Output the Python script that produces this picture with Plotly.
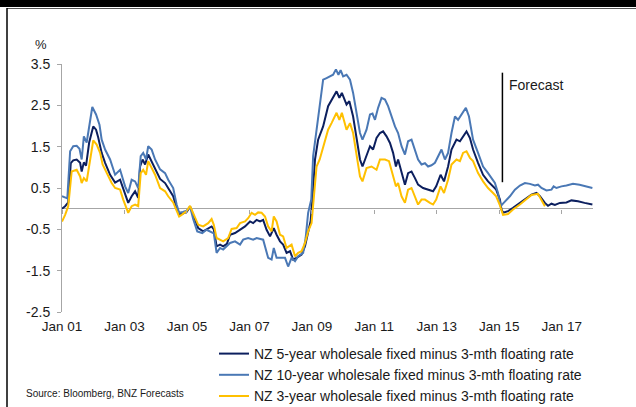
import plotly.graph_objects as go

# ---------------- data ----------------
x_5y = [2001.0, 2001.1, 2001.2, 2001.28, 2001.36, 2001.47, 2001.58, 2001.63, 2001.70, 2001.77, 2001.87,
        2002.0, 2002.09, 2002.16, 2002.27, 2002.38, 2002.54, 2002.70, 2002.86, 2003.02, 2003.12, 2003.23,
        2003.34, 2003.44, 2003.5, 2003.58, 2003.66, 2003.76, 2003.87, 2003.98, 2004.14, 2004.30, 2004.40,
        2004.56, 2004.67, 2004.75, 2004.87, 2004.99, 2005.1, 2005.2, 2005.36, 2005.52, 2005.68, 2005.79,
        2005.86, 2005.95, 2006.06, 2006.16, 2006.28, 2006.38, 2006.54, 2006.7, 2006.86, 2007.02, 2007.12,
        2007.23, 2007.34, 2007.44, 2007.55, 2007.66, 2007.78, 2007.87, 2007.98, 2008.08, 2008.19, 2008.3,
        2008.4, 2008.51, 2008.67, 2008.78, 2008.88, 2008.96, 2009.04, 2009.1, 2009.2, 2009.36, 2009.52,
        2009.63, 2009.79, 2009.88, 2009.96, 2010.11, 2010.2, 2010.32, 2010.43, 2010.54, 2010.62, 2010.75,
        2010.86, 2010.96, 2011.07, 2011.18, 2011.28, 2011.39, 2011.5, 2011.6, 2011.69, 2011.76, 2011.87,
        2011.98, 2012.08, 2012.19, 2012.3, 2012.4, 2012.56, 2012.72, 2012.88, 2012.98, 2013.12, 2013.23,
        2013.36, 2013.47, 2013.63, 2013.74, 2013.84, 2013.95, 2014.06, 2014.16, 2014.32, 2014.48, 2014.64,
        2014.8, 2014.9, 2015.02, 2015.07, 2015.12, 2015.28, 2015.44, 2015.66, 2015.87, 2016.03, 2016.19,
        2016.3, 2016.46, 2016.56, 2016.67, 2016.78, 2016.94, 2017.15, 2017.31, 2017.52, 2017.73, 2017.98]
y_5y = [0.0, 0.06, 0.15, 1.1, 1.17, 1.19, 1.11, 0.9, 1.12, 1.04, 1.6,
        1.99, 1.91, 1.72, 1.35, 1.11, 0.82, 0.63, 0.70, 0.38, 0.14, 0.30,
        0.42, 0.26, 1.02, 1.19, 1.07, 1.31, 1.15, 0.99, 0.72, 0.62, 0.5,
        0.3, 0.02, -0.13, -0.12, -0.08, 0.05, -0.15, -0.47, -0.55, -0.47, -0.43,
        -0.5, -0.91, -0.87, -0.91, -0.85, -0.63, -0.59, -0.51, -0.43, -0.31, -0.35,
        -0.27, -0.31, -0.27, -0.51, -0.67, -0.47, -0.63, -0.79, -0.87, -1.07, -1.03,
        -1.23, -1.19, -1.11, -0.91, -0.59, -0.3, 0.5, 1.19, 1.67, 1.99, 2.48,
        2.64, 2.84, 2.68, 2.8, 2.52, 2.6, 2.23, 1.67, 1.19, 1.02, 1.27,
        1.51, 1.43, 1.71, 1.83, 1.87, 1.75, 1.59, 1.35, 1.02, 1.19, 0.86,
        0.58, 0.86, 0.9, 0.74, 0.58, 0.5, 0.46, 0.42, 0.54, 0.82, 0.66,
        1.02, 1.43, 1.67, 1.63, 1.75, 1.87, 1.71, 1.43, 1.11, 0.82, 0.66,
        0.54, 0.46, 0.22, -0.02, -0.1, -0.06, 0.02, 0.14, 0.26, 0.34, 0.38,
        0.30, 0.14, 0.07, 0.12, 0.09, 0.14, 0.15, 0.2, 0.18, 0.14, 0.10]

x_10y = [2001.0, 2001.1, 2001.17, 2001.26, 2001.36, 2001.47, 2001.56, 2001.63, 2001.70, 2001.79, 2001.9,
         2001.97, 2002.09, 2002.2, 2002.27, 2002.38, 2002.54, 2002.70, 2002.86, 2003.02, 2003.12, 2003.23,
         2003.34, 2003.44, 2003.52, 2003.6, 2003.69, 2003.76, 2003.87, 2003.98, 2004.14, 2004.3, 2004.4,
         2004.56, 2004.67, 2004.75, 2004.87, 2004.99, 2005.1, 2005.2, 2005.33, 2005.49, 2005.63, 2005.76,
         2005.86, 2005.95, 2006.06, 2006.16, 2006.38, 2006.54, 2006.7, 2006.8, 2006.96, 2007.12, 2007.23,
         2007.44, 2007.6, 2007.71, 2007.78, 2007.87, 2008.03, 2008.14, 2008.24, 2008.35, 2008.46, 2008.56,
         2008.72, 2008.8, 2008.88, 2008.98, 2009.04, 2009.2, 2009.36, 2009.47, 2009.57, 2009.68, 2009.77,
         2009.85, 2009.92, 2010.0, 2010.11, 2010.22, 2010.32, 2010.43, 2010.54, 2010.62, 2010.75, 2010.86,
         2010.94, 2011.02, 2011.12, 2011.23, 2011.34, 2011.44, 2011.55, 2011.66, 2011.76, 2011.87, 2011.98,
         2012.08, 2012.19, 2012.3, 2012.4, 2012.51, 2012.62, 2012.72, 2012.83, 2012.94, 2013.04, 2013.15,
         2013.26, 2013.36, 2013.47, 2013.58, 2013.68, 2013.79, 2013.93, 2014.03, 2014.16, 2014.32, 2014.48,
         2014.64, 2014.75, 2014.86, 2014.96, 2015.04, 2015.14, 2015.34, 2015.5, 2015.66, 2015.82, 2015.98,
         2016.14, 2016.24, 2016.35, 2016.51, 2016.67, 2016.74, 2016.83, 2016.99, 2017.15, 2017.36, 2017.57,
         2017.78, 2017.98]
y_10y = [0.3, 0.28, 0.25, 1.39, 1.51, 1.52, 1.45, 1.19, 1.75, 1.6, 2.15,
         2.46, 2.28, 2.03, 1.67, 1.43, 1.19, 0.82, 0.94, 0.54, 0.38, 0.70,
         0.66, 0.50, 1.27, 1.35, 1.19, 1.51, 1.43, 1.19, 0.95, 0.86, 0.7,
         0.5, 0.1, -0.1, -0.08, -0.05, 0.05, -0.25, -0.55, -0.59, -0.51, -0.55,
         -0.6, -1.07, -0.95, -0.99, -0.83, -0.79, -0.87, -0.75, -0.71, -0.75, -0.71,
         -0.75, -1.19, -1.23, -0.95, -1.19, -1.19, -1.19, -1.40, -1.19, -1.27, -1.15,
         -1.07, -0.71, -0.1, 0.22, 1.27, 2.23, 3.12, 3.16, 3.2, 3.24, 3.37,
         3.24, 3.35, 3.2, 3.24, 3.12, 2.8, 2.32, 1.83, 1.67, 1.91, 2.28,
         2.3, 2.15, 2.44, 2.68, 2.64, 2.48, 2.23, 1.99, 1.83, 1.51, 1.31,
         1.63, 1.67, 1.43, 1.19, 1.07, 1.1, 1.02, 1.05, 1.11, 1.27, 1.43,
         1.19, 1.35, 1.83, 2.23, 2.15, 2.28, 2.44, 2.23, 1.67, 1.35, 1.02,
         0.86, 0.74, 0.62, 0.38, 0.06, 0.14, 0.3, 0.46, 0.56, 0.62, 0.6,
         0.56, 0.58, 0.50, 0.44, 0.46, 0.54, 0.5, 0.54, 0.56, 0.6, 0.58,
         0.54, 0.5]

x_3y = [2001.0, 2001.1, 2001.2, 2001.31, 2001.47, 2001.58, 2001.63, 2001.70, 2001.79, 2001.9, 2002.0,
        2002.11, 2002.22, 2002.3, 2002.43, 2002.59, 2002.7, 2002.86, 2002.96, 2003.07, 2003.12, 2003.23,
        2003.34, 2003.44, 2003.52, 2003.6, 2003.69, 2003.76, 2003.87, 2003.98, 2004.14, 2004.3, 2004.4,
        2004.56, 2004.67, 2004.75, 2004.83, 2004.99, 2005.1, 2005.2, 2005.36, 2005.52, 2005.68, 2005.79,
        2005.86, 2005.95, 2006.06, 2006.16, 2006.32, 2006.43, 2006.59, 2006.7, 2006.86, 2006.96, 2007.07,
        2007.18, 2007.28, 2007.39, 2007.5, 2007.6, 2007.71, 2007.78, 2007.87, 2007.98, 2008.08, 2008.19,
        2008.35, 2008.46, 2008.56, 2008.67, 2008.78, 2008.88, 2008.99, 2009.05, 2009.15, 2009.25, 2009.36,
        2009.52, 2009.63, 2009.79, 2009.88, 2009.96, 2010.11, 2010.22, 2010.32, 2010.43, 2010.54, 2010.62,
        2010.75, 2010.91, 2011.07, 2011.18, 2011.34, 2011.47, 2011.58, 2011.69, 2011.76, 2011.87, 2011.98,
        2012.08, 2012.19, 2012.3, 2012.4, 2012.51, 2012.62, 2012.78, 2012.88, 2012.98, 2013.12, 2013.23,
        2013.36, 2013.47, 2013.63, 2013.74, 2013.84, 2013.95, 2014.06, 2014.16, 2014.32, 2014.48, 2014.64,
        2014.8, 2014.9, 2015.01, 2015.12, 2015.28, 2015.44, 2015.66, 2015.87, 2016.03, 2016.24, 2016.35,
        2016.46]
y_3y = [-0.31, -0.15, 0.06, 0.9, 0.94, 0.78, 0.62, 0.74, 0.66, 1.19, 1.65,
        1.55, 1.35, 1.07, 0.86, 0.62, 0.50, 0.46, 0.22, -0.02, -0.1, 0.06,
        0.10, 0.06, 0.86, 0.94, 0.82, 1.15, 0.98, 0.82, 0.5, 0.42, 0.3,
        0.15, -0.05, -0.19, -0.15, -0.06, 0.07, -0.1, -0.39, -0.43, -0.35, -0.25,
        -0.39, -0.71, -0.75, -0.79, -0.71, -0.49, -0.47, -0.35, -0.31, -0.23, -0.1,
        -0.15, -0.09, -0.1, -0.19, -0.43, -0.55, -0.19, -0.31, -0.63, -0.67, -0.95,
        -0.87, -1.15, -1.07, -1.03, -0.83, -0.55, -0.35, 0.2, 1.02, 1.19, 1.51,
        1.91, 2.07, 2.32, 2.15, 2.32, 1.91, 2.07, 1.83, 1.27, 0.78, 0.66,
        0.98, 1.02, 0.94, 1.19, 1.19, 1.15, 0.86, 0.54, 0.62, 0.3, 0.14,
        0.46, 0.5, 0.3, 0.1, 0.22, 0.22, 0.14, 0.1, 0.22, 0.54, 0.38,
        0.70, 1.07, 1.19, 1.15, 1.35, 1.39, 1.23, 1.15, 0.86, 0.66, 0.5,
        0.38, 0.3, 0.1, -0.15, -0.13, -0.02, 0.1, 0.22, 0.33, 0.36, 0.22,
        0.06]

series_names = ["NZ 5-year wholesale fixed minus 3-mth floating rate",
                "NZ 10-year wholesale fixed minus 3-mth floating rate",
                "NZ 3-year wholesale fixed minus 3-mth floating rate"]
series_colors = ["#0c1f5e", "#4a78b5", "#ffc000"]

x_tick_vals = [2001, 2003, 2005, 2007, 2009, 2011, 2013, 2015, 2017]
x_tick_text = ["Jan 01", "Jan 03", "Jan 05", "Jan 07", "Jan 09", "Jan 11", "Jan 13", "Jan 15", "Jan 17"]
y_tick_vals = [-2.5, -1.5, -0.5, 0.5, 1.5, 2.5, 3.5]
y_tick_text = ["-2.5", "-1.5", "-0.5", "0.5", "1.5", "2.5", "3.5"]

forecast_x = 2015.1
forecast_y_range = [0.64, 3.29]
forecast_label_y = 2.98

# ---------------- layout geometry ----------------
W, H = 636, 407
PL, PR, PT, PB = 62, 593, 64, 312


def px(xp):
    return (xp - PL) / (PR - PL)


def py(yp):
    return (PB - yp) / (PB - PT)


FONT = "Liberation Sans, Arial, sans-serif"
TXT = "#1a1a1a"
AX = "#a6a6a6"

fig = go.Figure()
for xs, ys, name, col in zip([x_5y, x_10y, x_3y], [y_5y, y_10y, y_3y], series_names, series_colors):
    fig.add_trace(go.Scatter(x=xs, y=ys, name=name, mode="lines",
                             line=dict(color=col, width=2)))

fig.update_layout(
    width=W, height=H,
    margin=dict(l=PL, r=W - PR, t=PT, b=H - PB, autoexpand=False),
    paper_bgcolor="white", plot_bgcolor="white",
    font=dict(family=FONT, color=TXT, size=13),
    showlegend=True,
    legend=dict(x=px(214), y=py(338), xanchor="left", yanchor="top",
                font=dict(size=14, color=TXT), bgcolor="rgba(0,0,0,0)",
                tracegroupgap=0, itemwidth=30),
    xaxis=dict(range=[2001, 2018], tickvals=x_tick_vals, ticktext=x_tick_text,
               showline=False, ticks="", showgrid=False, zeroline=False,
               tickfont=dict(size=13.5, color=TXT), ticklabelstandoff=4),
    xaxis2=dict(overlaying="x", matches="x", anchor="free", position=2.5 / 6,
                tickvals=x_tick_vals, showticklabels=False, ticks="outside",
                ticklen=4, tickcolor=AX, tickwidth=1, showline=False,
                showgrid=False, zeroline=False),
    yaxis=dict(range=[-2.5, 3.5], tickvals=y_tick_vals, ticktext=y_tick_text,
               showline=True, linecolor=AX, linewidth=1, ticks="outside",
               ticklen=4, tickcolor=AX, showgrid=False, zeroline=True,
               zerolinecolor=AX, zerolinewidth=1.3,
               tickfont=dict(size=14, color=TXT), ticklabelstandoff=4),
)

# invisible helper trace so the zero-line tick axis is rendered
fig.add_trace(go.Scatter(x=[x_tick_vals[0]], y=[None], xaxis="x2", showlegend=False,
                         hoverinfo="skip", mode="lines"))

shapes = [
    dict(type="rect", xref="paper", yref="paper", x0=px(0), x1=px(W), y0=py(0), y1=py(7),
         fillcolor="black", line=dict(width=0), layer="above"),
    dict(type="line", xref="paper", yref="paper", x0=px(7), x1=px(W), y0=py(8.5), y1=py(8.5),
         line=dict(color="#555555", width=1)),
    dict(type="line", xref="paper", yref="paper", x0=px(7), x1=px(7), y0=py(8), y1=py(H),
         line=dict(color="black", width=1.5)),
    dict(type="line", xref="x", yref="y", x0=forecast_x, x1=forecast_x,
         y0=forecast_y_range[0], y1=forecast_y_range[1], line=dict(color="black", width=1.5)),
]
fig.update_layout(shapes=shapes)

fig.add_annotation(x=forecast_x, y=forecast_label_y, xref="x", yref="y", text="Forecast",
                   showarrow=False, xanchor="left", yanchor="middle", xshift=5,
                   font=dict(size=14, color=TXT))
fig.add_annotation(x=px(41), y=py(44), xref="paper", yref="paper", text="%",
                   showarrow=False, xanchor="center", yanchor="middle",
                   font=dict(size=13, color=TXT))
fig.add_annotation(x=px(24), y=py(393), xref="paper", yref="paper",
                   text="Source: Bloomberg, BNZ Forecasts",
                   showarrow=False, xanchor="left", yanchor="middle",
                   font=dict(size=10, color=TXT))

fig.write_html("out.html")
